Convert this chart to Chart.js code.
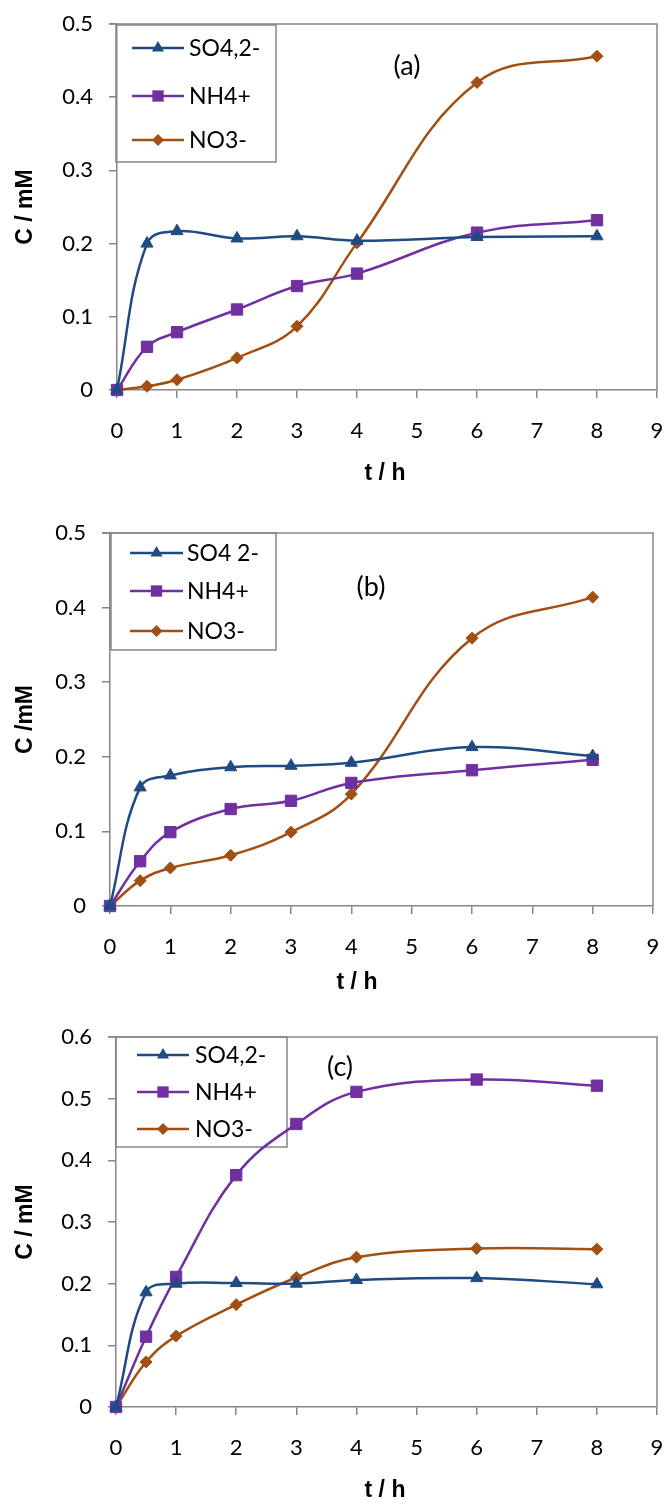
<!DOCTYPE html>
<html>
<head>
<meta charset="utf-8">
<script src="https://cdn.jsdelivr.net/npm/chart.js@4"></script>
<style>
  body { margin: 0; background: #fff; width: 666px; }
  canvas { display: block; }
</style>
</head>
<body>
<canvas id="chartA" width="666" height="490"></canvas>
<canvas id="chartB" width="666" height="510"></canvas>
<canvas id="chartC" width="666" height="503"></canvas>
<script>
// sampling times (h)
const hours = [0, 0.5, 1, 2, 3, 4, 6, 8];
const xTicks = [0, 1, 2, 3, 4, 5, 6, 7, 8, 9];

// legend names
const namesA = ['SO4,2-', 'NH4+', 'NO3-'];
const namesB = ['SO4 2-', 'NH4+', 'NO3-'];
const namesC = ['SO4,2-', 'NH4+', 'NO3-'];

// (a)
const so4A = [0, 0.200, 0.217, 0.207, 0.210, 0.204, 0.209, 0.210];
const nh4A = [0, 0.059, 0.079, 0.110, 0.142, 0.159, 0.215, 0.232];
const no3A = [0, 0.005, 0.014, 0.044, 0.087, 0.201, 0.420, 0.456];
// (b)
const so4B = [0, 0.159, 0.175, 0.186, 0.188, 0.192, 0.213, 0.201];
const nh4B = [0, 0.060, 0.099, 0.130, 0.141, 0.165, 0.182, 0.196];
const no3B = [0, 0.034, 0.051, 0.068, 0.099, 0.150, 0.359, 0.414];
// (c)
const so4C = [0, 0.186, 0.200, 0.201, 0.200, 0.206, 0.209, 0.199];
const nh4C = [0, 0.114, 0.211, 0.376, 0.459, 0.511, 0.531, 0.521];
const no3C = [0, 0.073, 0.115, 0.166, 0.210, 0.243, 0.257, 0.256];

const yTicksAB = [0, 0.1, 0.2, 0.3, 0.4, 0.5];
const yTicksC = [0, 0.1, 0.2, 0.3, 0.4, 0.5, 0.6];

const colors = ['#1f4b82', '#7030a0', '#a14f12'];
const markers = ['triangle', 'rect', 'rectRot'];
const markerSizes = [7, 8, 6];
const axisColor = '#868686';

function drawMarker(ctx, style, r, x, y, color) {
  ctx.save();
  ctx.fillStyle = color;
  ctx.beginPath();
  if (style === 'triangle') {
    ctx.moveTo(x, y - r);
    ctx.lineTo(x + r * 0.866, y + r * 0.5);
    ctx.lineTo(x - r * 0.866, y + r * 0.5);
  } else if (style === 'rect') {
    const s = r * Math.SQRT1_2;
    ctx.rect(x - s, y - s, 2 * s, 2 * s);
  } else {
    ctx.moveTo(x, y - r);
    ctx.lineTo(x + r, y);
    ctx.lineTo(x, y + r);
    ctx.lineTo(x - r, y);
  }
  ctx.closePath();
  ctx.fill();
  ctx.restore();
}

// plot frame, inside legend, panel letter and x title
const panelPlugin = {
  id: 'panel',
  beforeDatasetsDraw(chart) {
    const cfg = chart.options.plugins.panel;
    const {ctx, chartArea: a} = chart;
    ctx.save();
    ctx.strokeStyle = axisColor;
    ctx.lineWidth = 1.5;
    ctx.beginPath();
    ctx.moveTo(a.left - 8, a.top);
    ctx.lineTo(a.right, a.top);
    ctx.lineTo(a.right, a.bottom);
    ctx.stroke();

    const L = cfg.legend;
    ctx.strokeRect(L.x, L.y, L.w, L.h);
    chart.data.datasets.forEach((d, i) => {
      const y = L.rows[i];
      ctx.strokeStyle = d.borderColor;
      ctx.lineWidth = 2.5;
      ctx.beginPath();
      ctx.moveTo(L.x1, y);
      ctx.lineTo(L.x2, y);
      ctx.stroke();
      drawMarker(ctx, markers[i], markerSizes[i], (L.x1 + L.x2) / 2, y, d.borderColor);
      ctx.fillStyle = '#000';
      ctx.font = '23px Lato';
      ctx.textBaseline = 'middle';
      ctx.textAlign = 'left';
      ctx.fillText(d.label, L.tx, y + 1);
    });

    ctx.fillStyle = '#000';
    ctx.textAlign = 'center';
    ctx.textBaseline = 'middle';
    ctx.font = '27px Lato';
    ctx.fillText(cfg.letter, cfg.lx, cfg.ly);
    ctx.font = 'bold 23px "Liberation Sans"';
    ctx.fillText('t / h', cfg.tx, cfg.ty);
    ctx.restore();
  }
};

function makeChart(id, names, series, yTicks, cfg) {
  const datasets = series.map((s, i) => ({
    label: names[i],
    data: hours.map((h, k) => ({x: h, y: s[k]})),
    borderColor: colors[i],
    backgroundColor: colors[i],
    pointBackgroundColor: colors[i],
    pointBorderColor: colors[i],
    pointStyle: markers[i],
    pointRadius: markerSizes[i],
    pointBorderWidth: 1,
    borderWidth: 2.5,
    tension: 0.4,
    clip: false
  }));
  const tickFont = {family: 'Lato', size: 22};
  const titleFont = {family: 'Liberation Sans', size: 23, weight: 'bold', lineHeight: 1};
  new Chart(document.getElementById(id), {
    type: 'line',
    data: {datasets},
    options: {
      responsive: false,
      animation: false,
      layout: {padding: {left: 0, right: 666 - cfg.right, top: cfg.top, bottom: 0}},
      plugins: {legend: {display: false}, tooltip: {enabled: false}, panel: cfg},
      scales: {
        x: {
          type: 'linear', min: xTicks[0], max: xTicks[xTicks.length - 1],
          afterBuildTicks: s => { s.ticks = xTicks.map(v => ({value: v})); },
          ticks: {color: '#000', font: tickFont, padding: 20},
          grid: {drawOnChartArea: false, tickLength: 8, color: axisColor, lineWidth: 1.5},
          border: {color: axisColor, width: 1.5},
          afterFit: s => {
            s.height = cfg.h - cfg.bottom;
            s.paddingLeft = 0;
            s.paddingRight = 0;
          }
        },
        y: {
          min: 0, max: yTicks[yTicks.length - 1],
          afterBuildTicks: s => { s.ticks = yTicks.map(v => ({value: v})); },
          ticks: {color: '#000', font: tickFont, padding: 16, callback: v => String(Number(v.toFixed(1)))},
          grid: {drawOnChartArea: false, tickLength: 8, color: axisColor, lineWidth: 1.5},
          border: {color: axisColor, width: 1.5},
          title: {display: true, text: cfg.yTitle, color: '#000', font: titleFont, padding: {top: 14.5, bottom: 0}},
          afterFit: s => {
            s.width = cfg.left;
            s.paddingTop = 0;
            s.paddingBottom = 0;
          }
        }
      }
    },
    plugins: [panelPlugin]
  });
}

makeChart('chartA', namesA, [so4A, nh4A, no3A], yTicksAB, {
  h: 490, left: 117, right: 658, top: 24, bottom: 390, yTitle: 'C / mM',
  letter: '(a)', lx: 407, ly: 66, tx: 385, ty: 474,
  legend: {x: 116, y: 25, w: 160, h: 137, x1: 132, x2: 184, tx: 189, rows: [48, 96, 140]}
});
makeChart('chartB', namesB, [so4B, nh4B, no3B], yTicksAB, {
  h: 510, left: 110, right: 653, top: 43, bottom: 416, yTitle: 'C /mM',
  letter: '(b)', lx: 371, ly: 97, tx: 357, ty: 493,
  legend: {x: 111, y: 43, w: 165, h: 117, x1: 130, x2: 183, tx: 187, rows: [63, 101, 141]}
});
makeChart('chartC', namesC, [so4C, nh4C, no3C], yTicksC, {
  h: 503, left: 116, right: 660, top: 37, bottom: 407, yTitle: 'C / mM',
  letter: '(c)', lx: 340, ly: 67, tx: 385, ty: 491,
  legend: {x: 116, y: 37, w: 171, h: 110, x1: 137, x2: 189, tx: 195, rows: [55, 92, 129]}
});
</script>
</body>
</html>
